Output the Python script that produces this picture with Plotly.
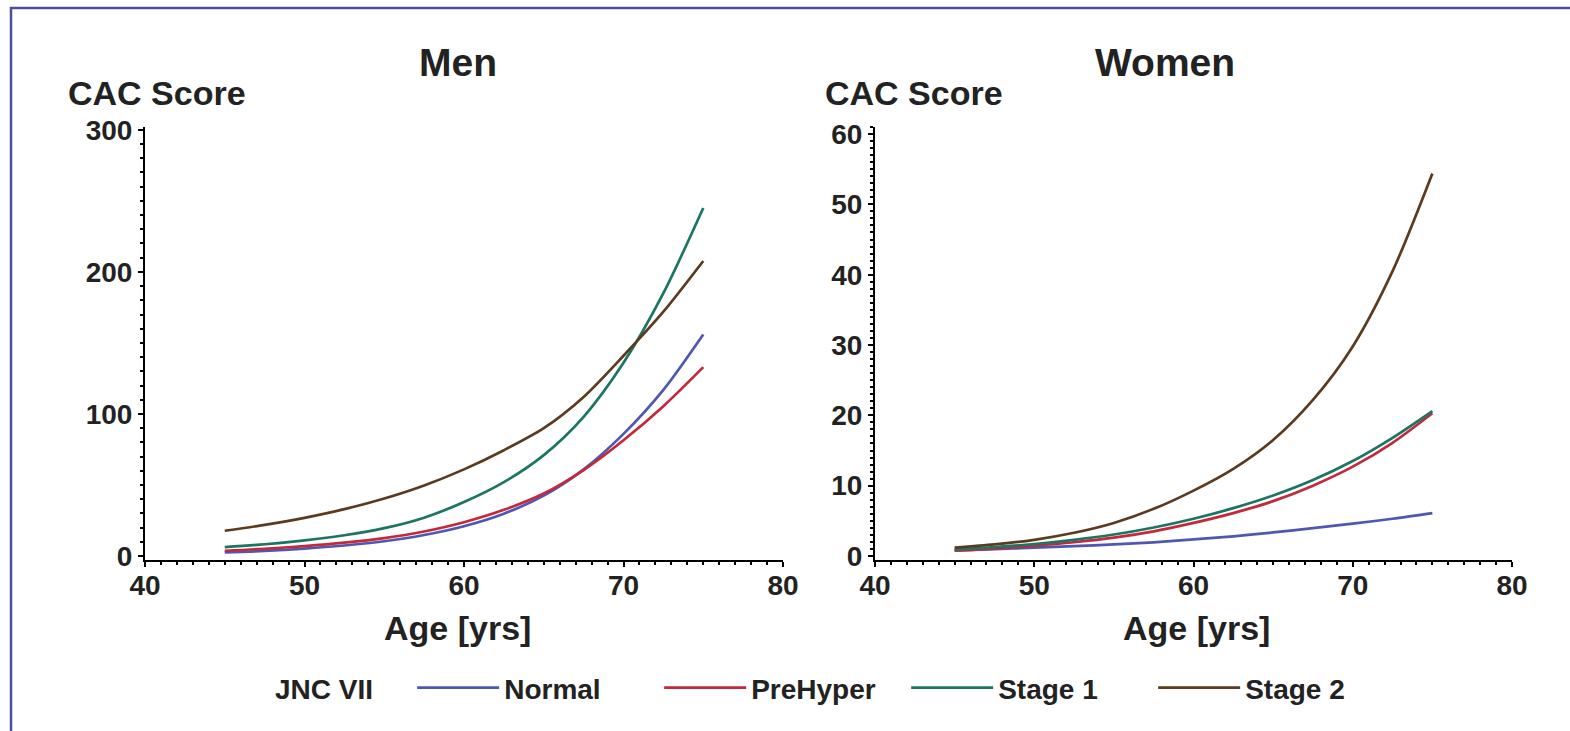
import plotly.graph_objects as go

# ---- data ----
ages = [45, 47.5, 50, 52.5, 55, 57.5, 60, 62.5, 65, 67.5, 70, 72.5, 75]

men_normal   = [2.5, 3.6, 5.2, 7.4, 10.4, 14.8, 21.0, 29.8, 42.5, 61, 86, 117, 156]
men_prehyper = [3.7, 5.1, 7.0, 9.4, 12.6, 17.3, 23.8, 32.5, 44, 60.5, 81.5, 105.5, 133]
men_stage1   = [6.3, 8.3, 11.0, 14.6, 19.6, 27.0, 38.0, 52.0, 71, 98, 136, 185, 245]
men_stage2   = [17.8, 21.9, 26.9, 33.0, 40.5, 49.7, 61, 74.5, 90, 112, 141, 172, 207.7]

women_normal   = [0.8, 0.98, 1.18, 1.4, 1.65, 1.95, 2.35, 2.8, 3.35, 3.95, 4.6, 5.3, 6.1]
women_prehyper = [0.75, 1.05, 1.45, 1.95, 2.6, 3.5, 4.7, 6.1, 7.8, 10.0, 12.7, 16.1, 20.3]
women_stage1   = [0.9, 1.25, 1.7, 2.3, 3.05, 4.05, 5.3, 6.8, 8.6, 10.8, 13.5, 16.8, 20.6]
women_stage2   = [1.2, 1.65, 2.3, 3.3, 4.7, 6.7, 9.3, 12.4, 16.5, 22.2, 29.8, 40.5, 54.4]

series_names = ["Normal", "PreHyper", "Stage 1", "Stage 2"]
series_colors = ["#4f57b3", "#c2293b", "#1c7560", "#5a3b1f"]
men_values = [men_normal, men_prehyper, men_stage1, men_stage2]
women_values = [women_normal, women_prehyper, women_stage1, women_stage2]

x_ticks = [40, 50, 60, 70, 80]
men_y_ticks = [0, 100, 200, 300]
women_y_ticks = [0, 10, 20, 30, 40, 50, 60]

FONT = "Liberation Sans, Arial, sans-serif"
TXT = "#222222"
W, H = 1570, 731

fig = go.Figure()
for name, color, vals in zip(series_names, series_colors, men_values):
    fig.add_trace(go.Scatter(x=ages, y=vals, mode="lines", name="<b>" + name + "</b>",
                             line=dict(color=color, width=2.7, shape="spline", smoothing=0.8),
                             xaxis="x", yaxis="y", showlegend=True))
for name, color, vals in zip(series_names, series_colors, women_values):
    fig.add_trace(go.Scatter(x=ages, y=vals, mode="lines", name="<b>" + name + "</b>",
                             line=dict(color=color, width=2.7, shape="spline", smoothing=0.8),
                             xaxis="x2", yaxis="y2", showlegend=False))


def px_x(p):
    return p / W


def px_y(p):
    return 1 - p / H


axis_common = dict(showline=True, linecolor="black", linewidth=2, ticks="outside",
                   ticklen=5, tickwidth=2, tickcolor="black", showgrid=False,
                   zeroline=False,
                   tickfont=dict(family=FONT, size=28, color=TXT, weight="bold"),
                   fixedrange=True)
minor_common = dict(ticks="outside", ticklen=3, tickwidth=1.5, tickcolor="black")

xdom1 = [px_x(145), px_x(783)]
xdom2 = [px_x(875), px_x(1512)]
ydom = [px_y(560), px_y(127)]

fig.update_layout(
    width=W, height=H,
    margin=dict(l=0, r=0, t=0, b=0, autoexpand=False),
    paper_bgcolor="white", plot_bgcolor="white",
    font=dict(family=FONT, color=TXT),
    xaxis=dict(domain=xdom1, range=[40, 80], tickvals=x_ticks, anchor="y",
               ticklabelstandoff=-6, minor=dict(dtick=1, **minor_common), **axis_common),
    yaxis=dict(domain=ydom, range=[-2.8, 302], tickvals=men_y_ticks, anchor="x",
               minor=dict(dtick=10, **minor_common), **axis_common),
    xaxis2=dict(domain=xdom2, range=[40, 80], tickvals=x_ticks, anchor="y2",
                ticklabelstandoff=-6, minor=dict(dtick=1, **minor_common), **axis_common),
    yaxis2=dict(domain=ydom, range=[-0.57, 61], tickvals=women_y_ticks, anchor="x2",
                minor=dict(dtick=1, **minor_common), **axis_common),
    legend=dict(orientation="h", x=px_x(273), xanchor="left", y=px_y(688), yanchor="middle",
                title=dict(text="<b>JNC VII</b>&nbsp;&nbsp;&nbsp;&nbsp;",
                           font=dict(family=FONT, size=28, color=TXT)),
                font=dict(family=FONT, size=28, color=TXT),
                itemwidth=82, entrywidth=150, entrywidthmode="pixels",
                bgcolor="rgba(0,0,0,0)", traceorder="normal"),
)

annotations = [
    dict(text="<b>Men</b>", x=px_x(458), y=px_y(62), size=39, xanchor="center"),
    dict(text="<b>Women</b>", x=px_x(1165), y=px_y(62), size=39, xanchor="center"),
    dict(text="<b>CAC Score</b>", x=px_x(66), y=px_y(93), size=34, xanchor="left"),
    dict(text="<b>CAC Score</b>", x=px_x(823), y=px_y(93), size=34, xanchor="left"),
    dict(text="<b>Age [yrs]</b>", x=px_x(457), y=px_y(628), size=34, xanchor="center"),
    dict(text="<b>Age [yrs]</b>", x=px_x(1196), y=px_y(628), size=34, xanchor="center"),
]
fig.update_layout(annotations=[
    dict(text=a["text"], x=a["x"], y=a["y"], xref="paper", yref="paper",
         xanchor=a["xanchor"], yanchor="middle", showarrow=False,
         font=dict(family=FONT, size=a["size"], color=TXT))
    for a in annotations
])

# outer blue frame
fig.add_shape(type="rect", xref="paper", yref="paper",
              x0=px_x(11), x1=1.02, y0=-0.05, y1=px_y(8),
              line=dict(color="#4b4f9e", width=2.5), fillcolor="rgba(0,0,0,0)", layer="below")

fig.write_html("out.html")
